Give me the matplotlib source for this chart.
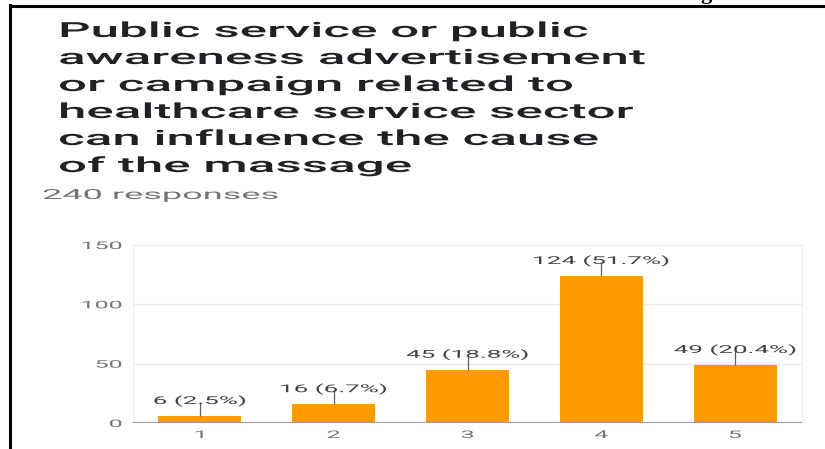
import numpy as np
import matplotlib
matplotlib.use("Agg")
import matplotlib.pyplot as plt
from matplotlib import patheffects
from matplotlib.transforms import Affine2D

# survey answers (scale 1-5) and response counts
categories = ["1", "2", "3", "4", "5"]
counts = [6, 16, 45, 124, 49]
percents = [2.5, 6.7, 18.8, 51.7, 20.4]
total = 240
yticks = [0, 50, 100, 150]

title_lines = [
    "Public service or public",
    "awareness advertisement",
    "or campaign related to",
    "healthcare service sector",
    "can influence the cause",
    "of the massage",
]


class Widen(patheffects.AbstractPathEffect):
    """Draw text stretched sideways, pinned at its left, centre or right."""

    def __init__(self, sx, anchor="left"):
        super().__init__()
        self.sx = sx
        self.anchor = anchor

    def draw_path(self, renderer, gc, tpath, affine, rgbFace=None):
        x0, y0 = affine.transform((0, 0))
        if self.anchor != "left":
            ext = tpath.get_extents(affine)
            x0 = (ext.x0 + ext.x1) / 2 if self.anchor == "center" else ext.x1
        stretch = Affine2D().translate(-x0, 0).scale(self.sx, 1).translate(x0, 0)
        renderer.draw_path(gc, tpath, affine + stretch, rgbFace)


W, H = 825, 449
fig = plt.figure(figsize=(W / 100, H / 100), dpi=100)
plt.rcParams["font.family"] = ["Roboto", "DejaVu Sans"]

SX = 2.4

# page frame lines and the tail of the line above
fig.add_artist(plt.Line2D([10 / W, 10 / W], [0, 1 - 5 / H], color="black", lw=2.2))
fig.add_artist(plt.Line2D([10 / W, 1], [1 - 6 / H, 1 - 6 / H], color="black", lw=2.2))
fig.text(700 / W, 1 + 1 / H, "g", family="Liberation Serif", fontweight="bold",
         fontsize=16, va="baseline", ha="left")

# question text
for i, line in enumerate(title_lines):
    fig.text(58 / W, 1 - (37 + 27 * i) / H, line, fontsize=15, color="#202124",
             fontweight="medium", va="baseline", ha="left",
             path_effects=[Widen(2.45)])
fig.text(42 / W, 1 - 199 / H, "%d responses" % total, fontsize=10, color="#757575",
         va="baseline", ha="left", path_effects=[Widen(2.6)])

ax = fig.add_axes([133 / W, 1 - 423 / H, (802 - 133) / W, (423 - 245) / H])
x = np.arange(len(categories))
ax.bar(x, counts, width=0.62, color="#ff9900", zorder=3)
ax.set_xlim(-0.5, len(categories) - 0.5)
ax.set_ylim(0, 150)
ax.set_yticks(yticks)
ax.set_xticks(x)
ax.set_xticklabels(categories)
ax.grid(axis="y", color="#ececec", lw=1, zorder=0)
ax.axhline(0, color="#9e9e9e", lw=1.6, zorder=4)
for side in ["top", "bottom"]:
    ax.spines[side].set_visible(False)
for side in ["left", "right"]:
    ax.spines[side].set_color("#eeeeee")
ax.tick_params(axis="both", length=0, labelsize=7.5, labelcolor="#757575")
ax.tick_params(axis="y", pad=8)
ax.tick_params(axis="x", pad=5)
for lbl in ax.get_yticklabels():
    lbl.set_path_effects([Widen(SX, "right")])
for lbl in ax.get_xticklabels():
    lbl.set_path_effects([Widen(SX, "center")])

# value labels with a short leader line above each bar
for xi, c, p in zip(x, counts, percents):
    ax.vlines(xi, c, c + 12, color="#616161", lw=0.9, zorder=5)
    ax.text(xi, c + 10, "%d (%.1f%%)" % (c, p), fontsize=7.8, color="#424242",
            ha="center", va="baseline", zorder=6,
            path_effects=[Widen(SX, "center")])

fig.savefig("out.png", dpi=100, facecolor="white")
